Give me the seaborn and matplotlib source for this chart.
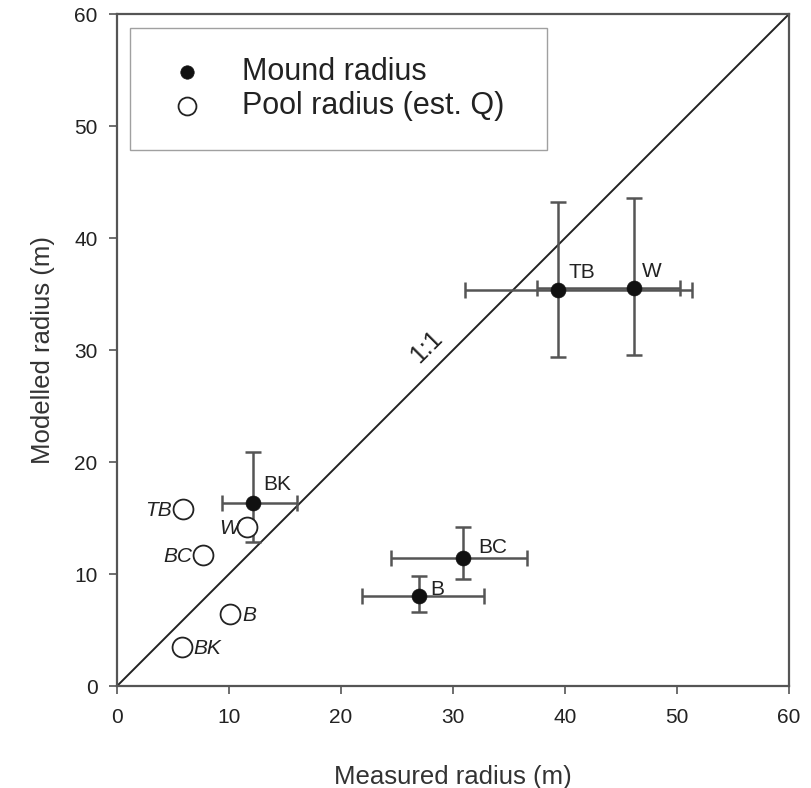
import numpy as np
import pandas as pd
import seaborn as sns
import matplotlib.pyplot as plt

# Mound radius (measured vs modelled) with error bars
mound_sites = ['TB', 'W', 'BK', 'BC', 'B']
mound_measured = [39.4, 46.2, 12.1, 30.9, 27.0]
mound_modelled = [35.4, 35.5, 16.3, 11.4, 8.0]
mound_x_low = [31.1, 37.5, 9.4, 24.5, 21.9]
mound_x_high = [51.3, 50.3, 16.1, 36.6, 32.8]
mound_y_low = [29.4, 29.6, 12.9, 9.6, 6.6]
mound_y_high = [43.2, 43.6, 20.9, 14.2, 9.8]

# Pool radius (est. Q)
pool_sites = ['TB', 'W', 'BC', 'B', 'BK']
pool_measured = [5.9, 11.6, 7.7, 10.1, 5.8]
pool_modelled = [15.8, 14.2, 11.7, 6.4, 3.5]

mound = pd.DataFrame({'site': mound_sites, 'x': mound_measured, 'y': mound_modelled})
pool = pd.DataFrame({'site': pool_sites, 'x': pool_measured, 'y': pool_modelled})

sns.set_style('white')
plt.rcParams['font.family'] = ['Liberation Sans', 'DejaVu Sans']

fig = plt.figure(figsize=(8.11, 7.88), dpi=100)
ax = fig.add_axes([0.1443, 0.1294, 0.8286, 0.8528])

# 1:1 line
ax.plot([0, 60], [0, 60], color='#222222', lw=1.4, zorder=1)
ax.text(27.6, 30.3, '1:1', rotation=45, ha='center', va='center',
        fontsize=18, color='#222222')

# error bars
xerr = [np.array(mound_measured) - np.array(mound_x_low),
        np.array(mound_x_high) - np.array(mound_measured)]
yerr = [np.array(mound_modelled) - np.array(mound_y_low),
        np.array(mound_y_high) - np.array(mound_modelled)]
ax.errorbar(mound['x'], mound['y'], xerr=xerr, yerr=yerr, fmt='none',
            ecolor='#555555', elinewidth=1.8, capsize=6, capthick=1.8, zorder=2)

sns.scatterplot(data=mound, x='x', y='y', ax=ax, color='#111111', s=115,
                edgecolor='#111111', linewidth=0.5, label='Mound radius', zorder=3)
sns.scatterplot(data=pool, x='x', y='y', ax=ax, facecolor='white', s=205,
                edgecolor='#222222', linewidth=1.3, label='Pool radius (est. Q)', zorder=3)

# site labels
mound_offsets = {'TB': (7, 8), 'W': (5, 8), 'BK': (8, 10), 'BC': (11, 4), 'B': (8, 1)}
for s, x, y in zip(mound_sites, mound_measured, mound_modelled):
    ax.annotate(s, (x, y), xytext=mound_offsets[s], textcoords='offset points',
                ha='left', va='baseline', fontsize=15, color='#222222')

pool_offsets = {'TB': (-8, 'right'), 'W': (-6, 'right'), 'BC': (-8, 'right'),
                'B': (9, 'left'), 'BK': (8, 'left')}
for s, x, y in zip(pool_sites, pool_measured, pool_modelled):
    dx, ha = pool_offsets[s]
    ax.annotate(s, (x, y), xytext=(dx, -1), textcoords='offset points',
                ha=ha, va='center', fontsize=15, style='italic', color='#222222')

ax.set_xlim(0, 60)
ax.set_ylim(0, 60)
ax.set_xticks(range(0, 61, 10))
ax.set_yticks(range(0, 61, 10))
ax.tick_params(axis='both', direction='out', length=6, width=1.2, color='#555555',
               labelsize=15, labelcolor='#222222', bottom=True, left=True)
ax.tick_params(axis='x', pad=10)
ax.tick_params(axis='y', pad=8)
for sp in ax.spines.values():
    sp.set_color('#555555')
    sp.set_linewidth(1.6)

ax.set_xlabel('Measured radius (m)', fontsize=18.5, color='#333333', labelpad=27)
ax.set_ylabel('Modelled radius (m)', fontsize=18.5, color='#333333', labelpad=14)

leg = ax.legend(loc='upper left', bbox_to_anchor=(0.019, 0.979, 0.621, 0.0),
                mode='expand', borderaxespad=0, fontsize=22, frameon=True,
                fancybox=False, edgecolor='#888888', borderpad=0.95,
                labelspacing=0.12, handletextpad=0.88, markerscale=0.9,
                handlelength=1.83)
leg.get_frame().set_linewidth(1.0)
for t in leg.get_texts():
    t.set_color('#222222')

plt.savefig('out.png', dpi=100)
